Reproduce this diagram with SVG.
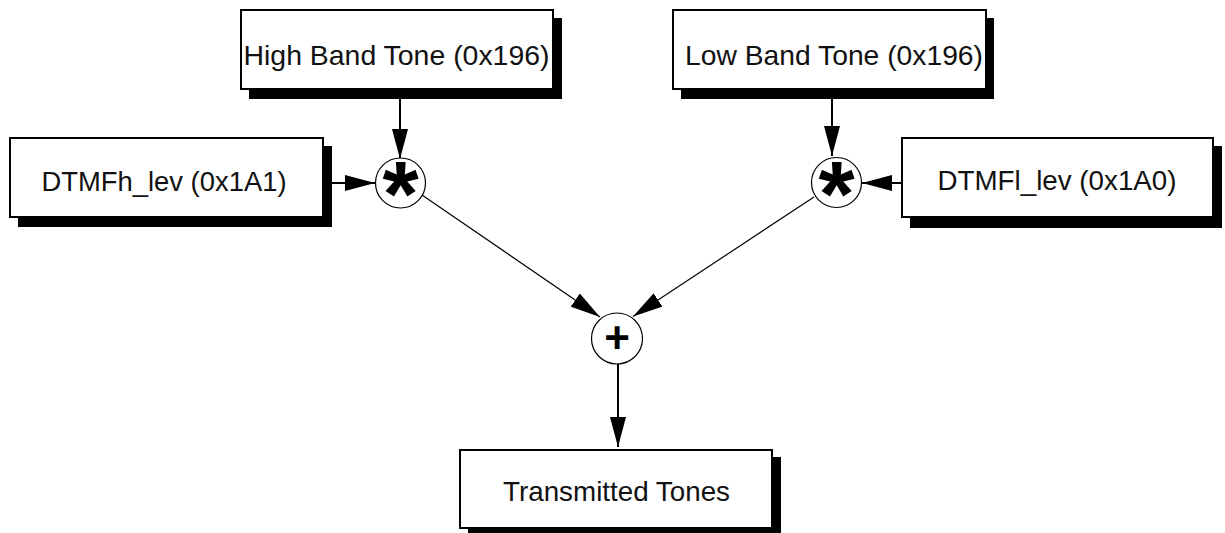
<svg xmlns="http://www.w3.org/2000/svg" width="1225" height="533" viewBox="0 0 1225 533">
<defs>
<marker id="ah" viewBox="0 -8 30 16" refX="30" refY="0" markerWidth="30" markerHeight="16" markerUnits="userSpaceOnUse" orient="auto">
<path d="M0,-8 L30,0 L0,8 z" fill="#000"/>
</marker>
<style>
.shadow{fill:#000}
.box{fill:#fff;stroke:#000;stroke-width:2}
.lbl{font-family:"Liberation Sans",Arial,sans-serif;font-size:28.5px;fill:#111;text-anchor:middle}
.op{fill:#fff;stroke:#000;stroke-width:1.2}
.sym{font-family:"Liberation Sans",Arial,sans-serif;font-weight:bold;fill:#000;text-anchor:middle}
.thick{stroke:#000;stroke-width:2;fill:none}
.thin{stroke:#000;stroke-width:1.2;fill:none}
</style>
</defs>
<g id="connectors">
<line class="thick" x1="400" y1="99" x2="400" y2="159" marker-end="url(#ah)"/>
<line class="thick" x1="332" y1="183" x2="375" y2="183" marker-end="url(#ah)"/>
<line class="thick" x1="832" y1="99" x2="832" y2="156" marker-end="url(#ah)"/>
<line class="thick" x1="902" y1="183" x2="862" y2="183" marker-end="url(#ah)"/>
<line class="thin" x1="422" y1="195" x2="600" y2="317" marker-end="url(#ah)"/>
<line class="thin" x1="814" y1="197" x2="633" y2="316.5" marker-end="url(#ah)"/>
<line class="thick" x1="618" y1="364" x2="618" y2="447" marker-end="url(#ah)"/>
</g>
<g id="high-band">
<rect class="shadow" x="249" y="18" width="313" height="81"/>
<rect class="box" x="241" y="10" width="312" height="79"/>
<text class="lbl" x="396.5" y="65" textLength="306" lengthAdjust="spacingAndGlyphs">High Band Tone (0x196)</text>
</g>
<g id="low-band">
<rect class="shadow" x="681" y="18" width="313" height="81"/>
<rect class="box" x="673" y="10" width="313" height="79"/>
<text class="lbl" x="834" y="65" textLength="298" lengthAdjust="spacingAndGlyphs">Low Band Tone (0x196)</text>
</g>
<g id="dtmfh-lev">
<rect class="shadow" x="18" y="146" width="314" height="81"/>
<rect class="box" x="10" y="138" width="313" height="79"/>
<text class="lbl" x="164" y="191" textLength="245" lengthAdjust="spacingAndGlyphs">DTMFh_lev (0x1A1)</text>
</g>
<g id="dtmfl-lev">
<rect class="shadow" x="910" y="146" width="312" height="82"/>
<rect class="box" x="902" y="138" width="311" height="79"/>
<text class="lbl" x="1057" y="190" textLength="239" lengthAdjust="spacingAndGlyphs">DTMFl_lev (0x1A0)</text>
</g>
<g id="transmitted">
<rect class="shadow" x="468" y="457" width="313" height="80"/>
<rect class="box" x="460" y="450" width="312" height="78"/>
<text class="lbl" x="616.5" y="501" textLength="227" lengthAdjust="spacingAndGlyphs">Transmitted Tones</text>
</g>
<g id="mult-high">
<circle class="op" cx="400.5" cy="183" r="25"/>
<text class="sym" x="400.5" y="226" font-size="93">*</text>
</g>
<g id="mult-low">
<circle class="op" cx="836.5" cy="182.5" r="25"/>
<text class="sym" x="836.5" y="225.5" font-size="93">*</text>
</g>
<g id="sum">
<circle class="op" cx="617" cy="338.5" r="25.5"/>
<text class="sym" x="617" y="353" font-size="44">+</text>
</g>
</svg>
